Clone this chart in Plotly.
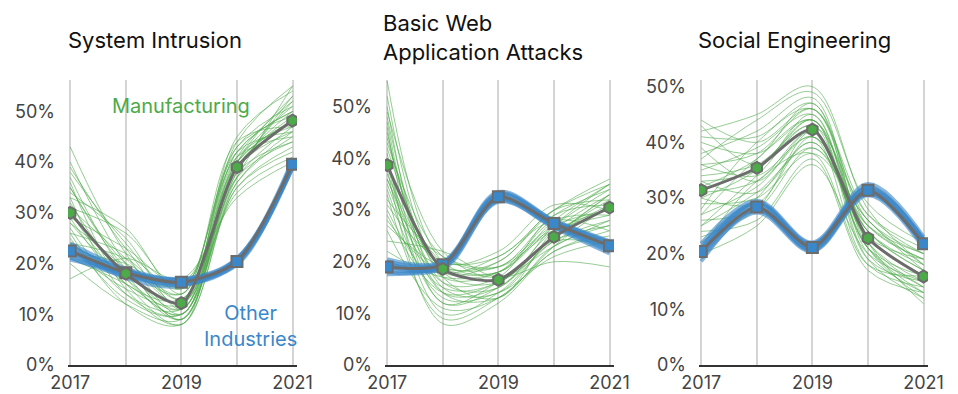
import plotly.graph_objects as go

years = [2017, 2018, 2019, 2020, 2021]
panel_titles = ["System Intrusion", "Basic Web<br>Application Attacks", "Social Engineering"]
x_tick_labels = ["2017", "", "2019", "", "2021"]
y_tick_vals = [0, 10, 20, 30, 40, 50]
y_tick_labels = ["0%", "10%", "20%", "30%", "40%", "50%"]

# Main estimates (percent)
si_manufacturing = [30.0, 18.0, 12.2, 39.0, 48.2]
si_other = [22.5, 18.2, 16.3, 20.4, 39.6]
bw_manufacturing = [38.7, 18.6, 16.5, 24.8, 30.5]
bw_other = [19.0, 19.4, 32.6, 27.4, 23.1]
se_manufacturing = [31.4, 35.4, 42.3, 22.8, 15.9]
se_other = [20.4, 28.4, 21.1, 31.4, 21.8]

# Sample (uncertainty) curves
si_manufacturing_samples = [
    [43, 22, 10, 42, 50], [40, 20, 9, 40, 53], [38, 24, 13, 44, 55], [36, 15, 8, 36, 46],
    [35, 19, 11, 41, 52], [33, 27, 14, 43, 49], [32, 17, 10, 38, 44], [31, 21, 12, 40, 51],
    [29, 16, 13, 37, 47], [28, 19, 9, 35, 42], [27, 14, 11, 39, 50], [26, 22, 15, 42, 46],
    [25, 13, 10, 36, 45], [24, 18, 16, 38, 53], [23, 15, 12, 34, 41], [22, 20, 14, 40, 48],
    [20, 12, 9, 37, 44], [17, 21, 17, 33, 40], [34, 25, 11, 45, 54], [30, 16, 8, 41, 47],
    [39, 23, 12, 43, 51], [37, 18, 9, 39, 49], [33, 14, 10, 38, 52], [31, 26, 15, 41, 45],
    [28, 17, 11, 40, 48], [26, 12, 8, 35, 43], [24, 21, 13, 42, 50], [21, 16, 10, 39, 46],
    [35, 20, 14, 44, 47], [29, 23, 16, 37, 55],
]
si_other_samples = [
    [24, 19, 17, 21, 40.5], [23.5, 18.5, 16.8, 20.8, 40], [23, 18.8, 16, 20.2, 39.2],
    [22.2, 17.8, 16.5, 20.6, 39.8], [21.8, 18, 15.8, 20, 39], [21.2, 17.5, 16.2, 20.5, 39.5],
    [20.8, 18.4, 16.9, 19.8, 40.2], [22.8, 17.2, 15.6, 21, 38.8],
]
bw_manufacturing_samples = [
    [55, 20, 18, 28, 35], [50, 15, 14, 25, 32], [48, 18, 20, 30, 36], [46, 12, 16, 23, 28],
    [44, 17, 13, 26, 33], [42, 20, 22, 31, 30], [40, 14, 15, 24, 27], [38, 8, 12, 22, 25],
    [37, 19, 18, 27, 34], [35, 16, 17, 29, 31], [34, 13, 14, 21, 24], [32, 21, 19, 26, 29],
    [30, 15, 16, 25, 33], [28, 18, 21, 28, 26], [26, 11, 13, 23, 31], [24, 22, 17, 20, 19],
    [45, 16, 15, 27, 35], [41, 10, 14, 24, 28], [36, 19, 20, 30, 32], [22, 17, 18, 26, 22],
    [52, 18, 16, 26, 30], [47, 14, 13, 23, 27], [43, 21, 19, 29, 34], [39, 12, 15, 25, 31],
    [36, 17, 18, 28, 29], [33, 9, 13, 22, 26], [31, 20, 21, 30, 35], [29, 14, 16, 24, 23],
    [27, 19, 19, 27, 30], [49, 22, 17, 25, 33],
]
bw_other_samples = [
    [20.5, 20, 33.5, 28, 24], [20, 19.8, 33, 27.8, 23.6], [19.5, 19.6, 32.2, 27, 22.8],
    [19, 19, 32.8, 27.5, 23.2], [18.5, 19.2, 32, 27.2, 22.4], [18, 18.8, 31.6, 26.8, 22],
    [17.6, 19.5, 33.2, 27.9, 23.8], [19.8, 18.6, 31.8, 26.6, 21.6],
]
se_manufacturing_samples = [
    [44, 40, 46, 26, 20], [42, 45, 50, 28, 18], [40, 38, 44, 24, 17], [38, 42, 48, 22, 14],
    [36, 34, 41, 25, 19], [35, 39, 45, 20, 13], [34, 36, 43, 27, 21], [33, 31, 40, 23, 16],
    [32, 37, 47, 21, 12], [31, 33, 42, 24, 18], [30, 35, 44, 19, 15], [29, 30, 38, 26, 17],
    [28, 40, 46, 22, 11], [27, 32, 41, 18, 14], [26, 28, 39, 25, 20], [25, 34, 43, 21, 16],
    [24, 26, 37, 17, 13], [22, 30, 40, 23, 19], [20, 25, 36, 20, 15], [37, 44, 49, 29, 22],
    [43, 36, 44, 23, 16], [41, 41, 47, 25, 19], [39, 33, 42, 21, 13], [36, 38, 46, 27, 20],
    [33, 35, 45, 22, 15], [30, 29, 41, 24, 17], [27, 37, 44, 19, 12], [25, 31, 39, 26, 18],
    [23, 28, 42, 21, 14], [21, 33, 38, 18, 16],
]
se_other_samples = [
    [21.8, 29.5, 22, 32.5, 23], [21.2, 29, 21.6, 32, 22.5], [20.8, 28.8, 21.4, 31.8, 22.2],
    [20.4, 28.2, 21, 31.2, 21.8], [19.8, 27.8, 20.6, 30.8, 21.4], [19.2, 27.4, 20.4, 30.5, 21],
    [18.6, 28, 20.8, 31, 21.6], [20, 29.2, 21.8, 31.6, 22.6],
]

GREEN = "#4caa48"
BLUE = "#3a87c9"
GRAY = "#6c6c6c"
FONT = "Inter"

panels = [
    (si_manufacturing, si_other, si_manufacturing_samples, si_other_samples, 56.2),
    (bw_manufacturing, bw_other, bw_manufacturing_samples, bw_other_samples, 55.2),
    (se_manufacturing, se_other, se_manufacturing_samples, se_other_samples, 51.2),
]

W, H = 958, 394
x_starts_px = [68, 385, 699]
x_width_px = 229
y_top_px, y_bot_px = 80, 365

fig = go.Figure()
for i, (man, oth, man_s, oth_s, ymax) in enumerate(panels):
    sfx = "" if i == 0 else str(i + 1)
    xa, ya = "x" + sfx, "y" + sfx
    for s in man_s:
        fig.add_trace(go.Scatter(x=years, y=s, mode="lines", xaxis=xa, yaxis=ya,
                                 line=dict(color=GREEN, width=1, shape="spline", smoothing=1.0),
                                 opacity=0.58, showlegend=False, hoverinfo="skip"))
    for s in oth_s:
        fig.add_trace(go.Scatter(x=years, y=s, mode="lines", xaxis=xa, yaxis=ya,
                                 line=dict(color=BLUE, width=4, shape="spline", smoothing=1.0),
                                 opacity=0.6, showlegend=False, hoverinfo="skip"))
    fig.add_trace(go.Scatter(x=years, y=oth, mode="lines+markers", xaxis=xa, yaxis=ya,
                             line=dict(color=GRAY, width=3, shape="spline", smoothing=0.7),
                             marker=dict(symbol="square", size=11, color=BLUE,
                                         line=dict(color=GRAY, width=2)),
                             showlegend=False))
    fig.add_trace(go.Scatter(x=years, y=man, mode="lines+markers", xaxis=xa, yaxis=ya,
                             line=dict(color=GRAY, width=3, shape="spline", smoothing=0.7),
                             marker=dict(symbol="hexagon", size=12, color=GREEN,
                                         line=dict(color=GRAY, width=2)),
                             showlegend=False))

    x0 = x_starts_px[i] / W
    x1 = (x_starts_px[i] + x_width_px) / W
    fig.layout["xaxis" + sfx] = dict(
        domain=[x0, x1], range=[2016.96, 2021.08], anchor=ya, automargin=False,
        tickvals=years, ticktext=x_tick_labels,
        showgrid=True, gridcolor="#d4d4d4", gridwidth=2,
        showline=True, linecolor="#333333", linewidth=2,
        ticks="", zeroline=False,
        tickfont=dict(family=FONT, size=18, color="#444444"),
    )
    fig.layout["yaxis" + sfx] = dict(
        domain=[(H - y_bot_px) / H, (H - y_top_px) / H], range=[0, ymax], anchor=xa,
        automargin=False,
        tickvals=y_tick_vals, ticktext=y_tick_labels,
        showgrid=False, zeroline=False, showline=False, ticks="",
        ticklabelstandoff=12,
        tickfont=dict(family=FONT, size=18, color="#444444"),
    )

annotations = [
    dict(text=panel_titles[0], x=66 / W, y=1 - 40 / H, xanchor="left", yanchor="middle"),
    dict(text=panel_titles[1], x=381 / W, y=1 - 38 / H, xanchor="left", yanchor="middle"),
    dict(text=panel_titles[2], x=696 / W, y=1 - 40 / H, xanchor="left", yanchor="middle"),
]
for a in annotations:
    a.update(xref="paper", yref="paper", showarrow=False, align="left",
             font=dict(family=FONT, size=22, color="#111111"))

annotations += [
    dict(text="Manufacturing", x=181 / W, y=1 - 106 / H, xref="paper", yref="paper",
         xanchor="center", yanchor="middle",
         showarrow=False, font=dict(family=FONT, size=20, color=GREEN)),
    dict(text="Other<br>Industries", x=250 / W, y=1 - 326 / H, xref="paper", yref="paper",
         xanchor="center", yanchor="middle",
         showarrow=False, align="center", font=dict(family=FONT, size=20, color=BLUE)),
]

fig.update_layout(
    width=W, height=H, margin=dict(l=0, r=0, t=0, b=0, autoexpand=False),
    paper_bgcolor="white", plot_bgcolor="white",
    annotations=annotations, showlegend=False,
)

fig.write_html("out.html", config={"displayModeBar": False},
               post_script="document.body.style.margin='0';document.body.style.overflow='hidden';")
